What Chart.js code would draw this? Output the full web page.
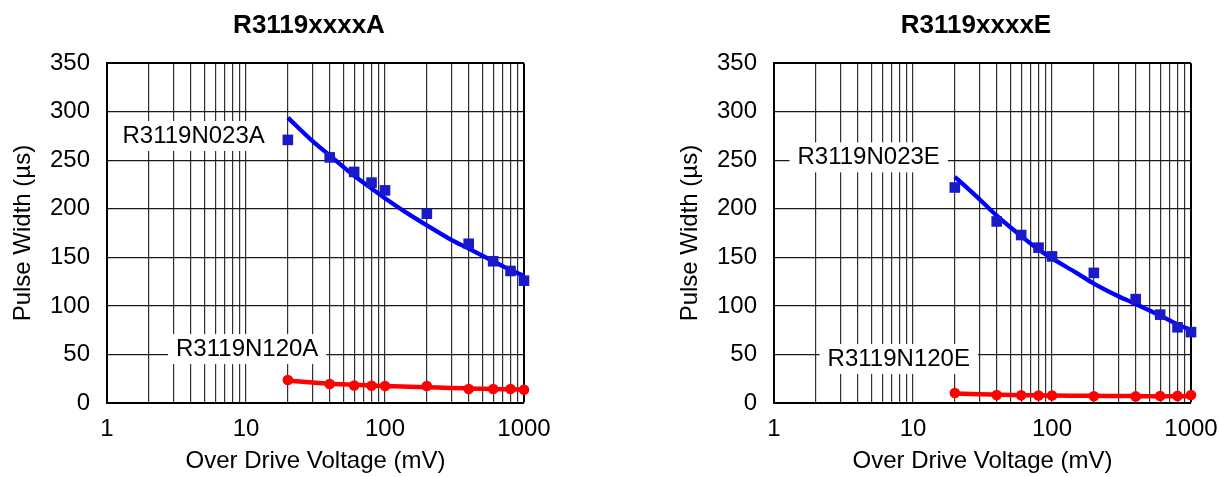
<!DOCTYPE html>
<html>
<head>
    <title>R3119 Pulse Width vs Over Drive Voltage</title>
    <script src="https://cdn.jsdelivr.net/npm/chart.js"></script>
    <style>
        html, body {
            margin: 0;
            padding: 0;
            background: #ffffff;
            overflow: hidden;
        }

        .wrap {
            position: relative;
            width: 1219px;
            height: 477px;
            overflow: hidden;
        }

        canvas {
            position: absolute;
            top: 0;
        }

        #chartA { left: 0; }
        #chartE { left: 660px; }
    </style>
</head>
<body>
    <div class="wrap">
        <canvas id="chartA" width="618" height="477"></canvas>
        <canvas id="chartE" width="632" height="477"></canvas>
    </div>

    <script>
        // measured points (mV)
        const voltage = [20, 40, 60, 80, 100, 200, 400, 600, 800, 1000];
        const widthA023 = [271, 253, 238, 227, 219, 195, 164, 146, 136, 126];
        const widthA120 = [23.7, 19.5, 18, 17.8, 17.5, 17.5, 14.3, 14.4, 14.4, 13.7];
        const widthE023 = [222, 187, 173, 160, 151, 134, 107, 91, 78, 73];
        const widthE120 = [10.3, 8.2, 7.9, 7.8, 7.8, 7.0, 6.8, 7.2, 7.3, 8.2];

        // fitted curves
        const fitVoltage = [20, 30, 40, 60, 80, 100, 150, 200, 300, 400, 600, 800, 1000];
        const fitA023 = [294, 270, 255, 234, 221, 211, 194, 183, 168, 159, 146, 137, 131];
        const fitA120 = [23, 21, 19.8, 18.7, 18, 17.5, 16.7, 16.2, 15.4, 15, 14.5, 14.1, 13.8];
        const fitE023 = [233, 210, 193, 172, 158, 149, 134, 123, 110, 102, 90, 81, 75];
        const fitE120 = [9.8, 9.0, 8.6, 8.1, 7.9, 7.7, 7.5, 7.4, 7.2, 7.1, 7.0, 7.0, 6.9];

        // axes
        const xGridValues = [1, 2, 3, 4, 5, 6, 7, 8, 9,
                             10, 20, 30, 40, 50, 60, 70, 80, 90,
                             100, 200, 300, 400, 500, 600, 700, 800, 900, 1000];
        const xTickLabels = [1, 10, 100, 1000];
        const yMin = 0, yMax = 350, yStep = 50;

        const FONT = "'Liberation Sans', Arial, sans-serif";
        const BLUE_LINE = '#0000ff';
        const BLUE_MARK = '#1a1ac8';
        const RED = '#ff0000';

        const toXY = (xs, ys) => xs.map((x, i) => ({ x: x, y: ys[i] }));

        // text labels with a white box behind them (covers the grid)
        const boxLabelPlugin = {
            id: 'boxLabels',
            afterDatasetsDraw(chart, args, opts) {
                const { ctx, scales } = chart;
                ctx.save();
                ctx.font = '24px ' + FONT;
                ctx.textAlign = 'center';
                ctx.textBaseline = 'middle';
                (opts.items || []).forEach(item => {
                    const px = scales.x.getPixelForValue(item.x);
                    const py = scales.y.getPixelForValue(item.y);
                    const w = ctx.measureText(item.text).width + 16;
                    ctx.fillStyle = '#ffffff';
                    ctx.fillRect(px - w / 2, py - 15, w, 30);
                    ctx.fillStyle = '#000000';
                    ctx.fillText(item.text, px, py);
                });
                ctx.restore();
            }
        };

        function gridColor(edgeValue, inner) {
            return ctx => (ctx.tick && ctx.tick.value === edgeValue) ? '#000000' : inner;
        }
        function gridWidth(edgeValue) {
            return ctx => (ctx.tick && ctx.tick.value === edgeValue) ? 2 : 1.2;
        }

        function makeChart(id, cfg) {
            const ctx = document.getElementById(id).getContext('2d');
            return new Chart(ctx, {
                type: 'scatter',
                data: {
                    datasets: [
                        {
                            label: cfg.names[0],
                            data: toXY(voltage, cfg.blue),
                            pointStyle: 'rect',
                            pointRadius: 7.5,
                            pointBorderWidth: 0,
                            backgroundColor: BLUE_MARK,
                            showLine: false,
                            clip: false,
                            order: 0
                        },
                        {
                            label: cfg.names[1],
                            data: toXY(voltage, cfg.red),
                            pointStyle: 'circle',
                            pointRadius: 5.3,
                            pointBorderWidth: 0,
                            backgroundColor: RED,
                            showLine: false,
                            clip: false,
                            order: 0
                        },
                        {
                            label: cfg.names[0] + ' fit',
                            data: toXY(fitVoltage, cfg.blueFit),
                            showLine: true,
                            pointRadius: 0,
                            borderColor: BLUE_LINE,
                            borderWidth: 4.3,
                            cubicInterpolationMode: 'monotone',
                            clip: false,
                            order: 1
                        },
                        {
                            label: cfg.names[1] + ' fit',
                            data: toXY(fitVoltage, cfg.redFit),
                            showLine: true,
                            pointRadius: 0,
                            borderColor: RED,
                            borderWidth: 4.5,
                            cubicInterpolationMode: 'monotone',
                            clip: false,
                            order: 1
                        }
                    ]
                },
                options: {
                    responsive: false,
                    animation: false,
                    layout: { padding: 0 },
                    plugins: {
                        legend: { display: false },
                        tooltip: { enabled: false },
                        title: {
                            display: true,
                            text: cfg.title,
                            color: '#000000',
                            font: { family: FONT, size: 26, weight: 'bold' },
                            padding: { top: 10, bottom: 22 }
                        },
                        boxLabels: { items: cfg.labels }
                    },
                    scales: {
                        x: {
                            type: 'logarithmic',
                            position: 'bottom',
                            min: 1,
                            max: 1000,
                            afterBuildTicks: s => { s.ticks = xGridValues.map(v => ({ value: v })); },
                            afterFit: s => { s.height = 74; },
                            ticks: {
                                autoSkip: false,
                                maxRotation: 0,
                                padding: 12,
                                color: '#000000',
                                font: { family: FONT, size: 24 },
                                callback: v => xTickLabels.includes(v) ? String(v) : ''
                            },
                            grid: {
                                drawTicks: false,
                                color: gridColor(1000, '#303030'),
                                lineWidth: gridWidth(1000)
                            },
                            border: { color: '#000000', width: 2 },
                            title: {
                                display: true,
                                text: 'Over Drive Voltage (mV)',
                                color: '#000000',
                                font: { family: FONT, size: 24 },
                                padding: { top: 0, bottom: 1 }
                            }
                        },
                        y: {
                            type: 'linear',
                            position: 'left',
                            min: yMin,
                            max: yMax,
                            afterFit: s => { s.width = cfg.yWidth; },
                            ticks: {
                                stepSize: yStep,
                                padding: 17,
                                color: '#000000',
                                font: { family: FONT, size: 24 }
                            },
                            grid: {
                                drawTicks: false,
                                color: gridColor(yMax, '#1a1a1a'),
                                lineWidth: gridWidth(yMax)
                            },
                            border: { color: '#000000', width: 2 },
                            title: {
                                display: true,
                                text: 'Pulse Width (µs)',
                                color: '#000000',
                                font: { family: FONT, size: 24 },
                                padding: { top: cfg.yTitlePad, bottom: 0 }
                            }
                        },
                        // empty right-hand margin so the title centres like the original
                        yRight: {
                            type: 'linear',
                            position: 'right',
                            display: true,
                            afterFit: s => { s.width = cfg.rightWidth; },
                            ticks: { display: false },
                            grid: { display: false },
                            border: { display: false }
                        }
                    }
                },
                plugins: [boxLabelPlugin]
            });
        }

        makeChart('chartA', {
            title: 'R3119xxxxA',
            names: ['R3119N023A', 'R3119N120A'],
            blue: widthA023,
            red: widthA120,
            blueFit: fitA023,
            redFit: fitA120,
            yWidth: 107,
            yTitlePad: 8.6,
            rightWidth: 94,
            labels: [
                { text: 'R3119N023A', x: 4.2, y: 275 },
                { text: 'R3119N120A', x: 10.2, y: 55.5 }
            ]
        });

        makeChart('chartE', {
            title: 'R3119xxxxE',
            names: ['R3119N023E', 'R3119N120E'],
            blue: widthE023,
            red: widthE120,
            blueFit: fitE023,
            redFit: fitE120,
            yWidth: 114,
            yTitlePad: 15.6,
            rightWidth: 101,
            labels: [
                { text: 'R3119N023E', x: 4.8, y: 253 },
                { text: 'R3119N120E', x: 7.9, y: 45.3 }
            ]
        });
    </script>
</body>
</html>
